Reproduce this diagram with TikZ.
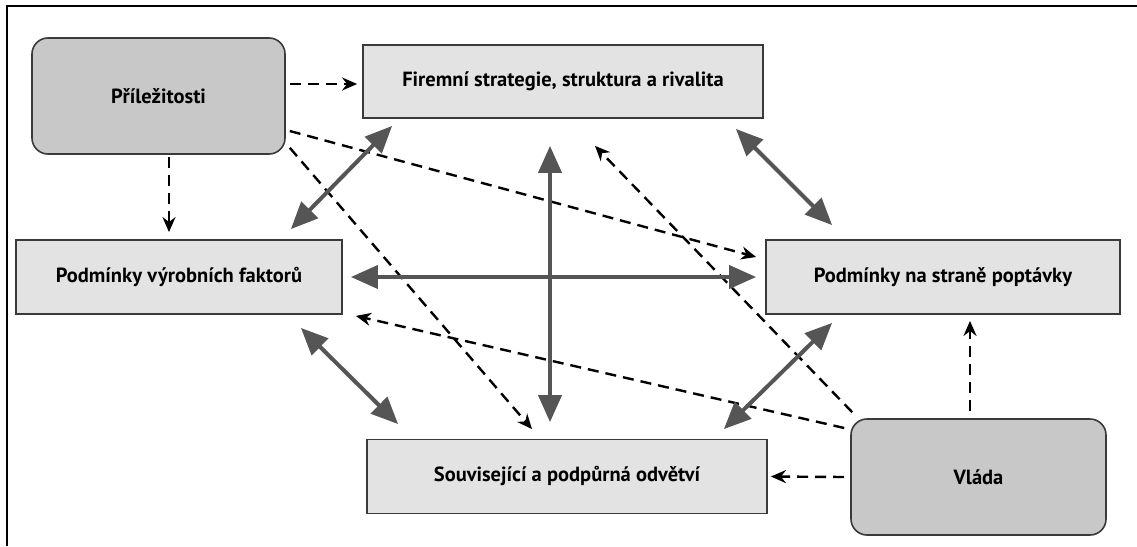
\documentclass[tikz,border=0pt]{standalone}
\usepackage{fontspec}
\setmainfont{PT Sans}
\usetikzlibrary{arrows.meta}
\definecolor{boxdark}{HTML}{C8C8C8}
\definecolor{boxlight}{HTML}{E3E3E3}
\definecolor{edge}{HTML}{3A3A3A}
\definecolor{arrgray}{HTML}{555555}
\tikzset{
  every node/.style={font=\fontsize{20.5}{24}\selectfont\bfseries, text=black},
  lightbox/.style={draw=edge, line width=1.8pt, fill=boxlight, inner sep=0pt},
  darkbox/.style={draw=edge, line width=1.6pt, fill=boxdark, rounded corners=16pt, inner sep=0pt},
  dasharrow/.style={black, line width=2.4pt, dash pattern=on 11pt off 7pt, -{Stealth[length=15pt,width=13pt]}},
  biarrow/.style={arrgray, line width=4pt, {Triangle[length=27pt,width=23pt]}-{Triangle[length=27pt,width=23pt]}},
}
\begin{document}
\begin{tikzpicture}[x=1pt,y=-1pt]
\useasboundingbox (0,0) rectangle (1137,546);
\fill[white] (0,0) rectangle (1137,546);
\draw[line width=2.5pt] (7,546) -- (7,6) -- (1137,6);

\node[darkbox, minimum width=253pt, minimum height=116pt] (pril) at (158.5,96) {Příležitosti};
\node[lightbox, minimum width=400pt, minimum height=73pt] (firm) at (563,81.5) {Firemní strategie, struktura a rivalita};
\node[lightbox, minimum width=326pt, minimum height=74pt] (vyr) at (179,277) {Podmínky výrobních faktorů};
\node[lightbox, minimum width=354pt, minimum height=74pt] (popt) at (943,277) {Podmínky na straně poptávky};
\node[lightbox, minimum width=400pt, minimum height=74pt] (souv) at (567,476.5) {Související a podpůrná odvětví};
\node[darkbox, minimum width=255pt, minimum height=116pt] (vlada) at (978.5,477) {Vláda};

% dashed influences
\draw[dasharrow] ([shift={(4,-12)}]pril.east) -- ([shift={(-5,2.5)}]firm.west);
\draw[dasharrow] ([shift={(10.5,2)}]pril.south) -- ([shift={(-10,-7)}]vyr.north);
\draw[dasharrow] ([shift={(4,35)}]pril.east) -- ([shift={(-9,-20)}]popt.west);
\draw[dasharrow] ([shift={(4,-7)}]pril.south east) -- ([shift={(-35,-9.5)}]souv.north);
\draw[dasharrow] ([shift={(2,-6)}]vlada.north west) -- ([shift={(32,27)}]firm.south);
\draw[dasharrow] ([shift={(-6,-49)}]vlada.west) -- ([shift={(13,1)}]vyr.south east);
\draw[dasharrow] ([shift={(-8.5,-7)}]vlada.north) -- ([shift={(27,6)}]popt.south);
\draw[dasharrow] ([shift={(-6,0)}]vlada.west) -- ([shift={(3,0)}]souv.east);

% solid two-way links
\draw[biarrow] ([shift={(30,7)}]firm.south west) -- ([shift={(-52,-10)}]vyr.north east);
\draw[biarrow] ([shift={(-28,10)}]firm.south east) -- ([shift={(67,-14)}]popt.north west);
\draw[biarrow] ([shift={(-13,27)}]firm.south) -- ([shift={(-17,-16.5)}]souv.north);
\draw[biarrow] ([shift={(8,0)}]vyr.east) -- ([shift={(-9,0)}]popt.west);
\draw[biarrow] ([shift={(-42,13)}]vyr.south east) -- ([shift={(32,-14.5)}]souv.north west);
\draw[biarrow] ([shift={(67,8)}]popt.south west) -- ([shift={(-44,-9.5)}]souv.north east);
\end{tikzpicture}
\end{document}
